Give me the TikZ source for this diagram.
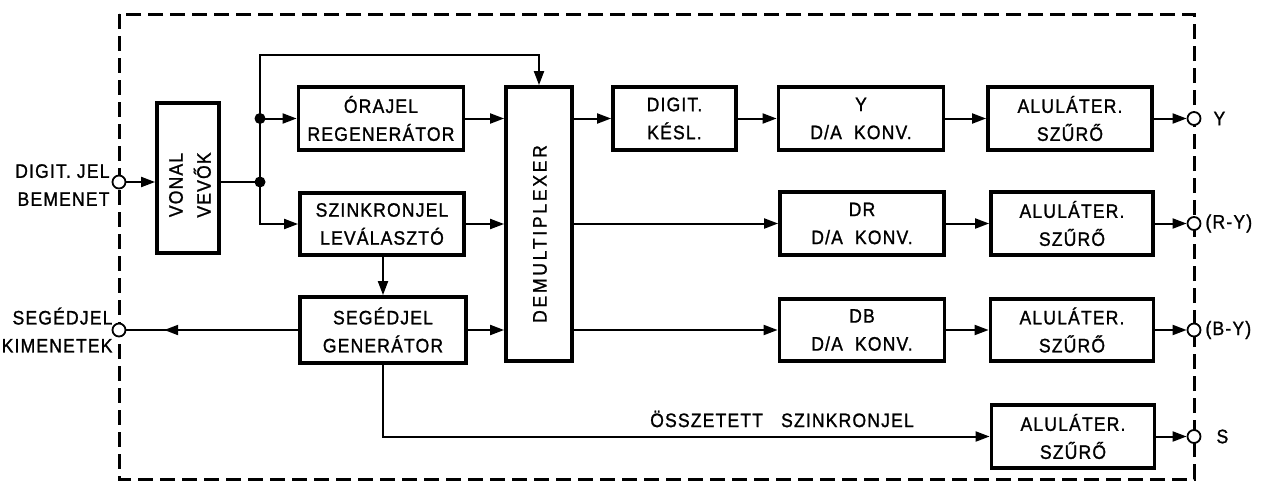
\documentclass[tikz,border=0pt]{standalone}
\usepackage{fontspec}
\setmainfont[LetterSpace=6,FakeStretch=0.9,FakeBold=1.2]{Liberation Sans}
\usetikzlibrary{arrows.meta,decorations.markings}
\begin{document}
\begin{tikzpicture}[x=1pt,y=-1pt,
  txt/.style={font=\fontsize{19.5}{28}\selectfont, align=center},
  blk/.style={draw, line width=3.8pt, inner sep=0pt, txt},
  conn/.style={line width=2pt},
  arr/.style={conn, -{Triangle[length=14pt,width=10pt]}},
  midarr/.style={conn, postaction={decorate}, decoration={markings,
     mark=at position 0.78 with {\arrow{Triangle[length=14pt,width=10pt]}}}},
  port/.style={circle, draw, line width=1.8pt, fill=white, minimum size=13pt, inner sep=0pt},
  jdot/.style={circle, fill, minimum size=11pt, inner sep=0pt},
  border/.style={line width=3pt, dash pattern=on 15pt off 7pt}
]
\useasboundingbox (0,0) rectangle (1261,485);
\draw[border] (119,14) rectangle (1194,479);

% blocks
\node[blk, minimum width=62pt, minimum height=150pt] (vonal) at (188,178) {};
\node[txt, rotate=90] (vonaltxt) at (190,185) {VONAL\\VEVŐK};
\node[blk, minimum width=165pt, minimum height=63pt] (orajel) at (381,118.5) {ÓRAJEL\\REGENERÁTOR};
\node[blk, minimum width=164pt, minimum height=62pt] (szink) at (382,224) {SZINKRONJEL\\LEVÁLASZTÓ};
\node[blk, minimum width=166pt, minimum height=66pt] (seged) at (383,330) {SEGÉDJEL\\GENERÁTOR};
\node[blk, minimum width=66pt, minimum height=274pt] (demux) at (539,224) {};
\node[txt, rotate=90] (demuxtxt) at (540,234) {\addfontfeature{LetterSpace=14}DEMULTIPLEXER};
\node[blk, minimum width=123pt, minimum height=63pt] (kesl) at (674.5,118.5) {DIGIT.\\KÉSL.};
\node[blk, minimum width=165pt, minimum height=63pt] (ydac) at (861,118.5) {Y\\D/A\ \ KONV.};
\node[blk, minimum width=164pt, minimum height=63pt] (drdac) at (862,223.5) {DR\\D/A\ \ KONV.};
\node[blk, minimum width=165pt, minimum height=62pt] (dbdac) at (862,330) {DB\\D/A\ \ KONV.};
\node[blk, minimum width=164pt, minimum height=63pt] (alu1) at (1070,118.5) {ALULÁTER.\\SZŰRŐ};
\node[blk, minimum width=162pt, minimum height=63pt] (alu2) at (1072,223.5) {ALULÁTER.\\SZŰRŐ};
\node[blk, minimum width=163pt, minimum height=62pt] (alu3) at (1072,330) {ALULÁTER.\\SZŰRŐ};
\node[blk, minimum width=163pt, minimum height=63pt] (alu4) at (1073,436.5) {ALULÁTER.\\SZŰRŐ};

% ports
\node[port] (pin) at (119,182) {};
\node[port] (pseg) at (119,330) {};
\node[port] (o1) at (1194,118.5) {};
\node[port] (o2) at (1194,223.5) {};
\node[port] (o3) at (1194,330) {};
\node[port] (o4) at (1194,436.5) {};

% port labels
\node[txt, align=right, anchor=east] (inlab) at (113,185) {DIGIT. JEL\\BEMENET};
\node[txt, align=right, anchor=east] (seglab) at (116,330) {SEGÉDJEL\\KIMENETEK};
\node[txt, anchor=west] (l1) at (1210,118.5) {Y};
\node[txt, anchor=west] (l2) at (1202,223.5) {(R-Y)};
\node[txt, anchor=west] (l3) at (1202,330) {(B-Y)};
\node[txt, anchor=west] (l4) at (1213,436.5) {S};
\node[txt] (osszlab) at (782,419) {ÖSSZETETT\ \ \ SZINKRONJEL};

% junctions
\coordinate (jtop) at (260,55);
\coordinate (j1) at (260,118.5);
\coordinate (j2) at (260,182);
\node[jdot] (d1) at (j1) {};
\node[jdot] (d2) at (j2) {};

% connectors
\draw[arr] (pin) -- (pin -| vonal.west);
\draw[conn] (vonal.east |- j2) -- (j2);
\draw[arr] (j2) -- (jtop) -| (demux.north);
\draw[arr] (j1) -- (orajel.west);
\draw[arr] (j2) |- (szink.west);
\draw[arr] (orajel.east) -- (orajel.east -| demux.west);
\draw[arr] (szink.east) -- (szink.east -| demux.west);
\draw[arr] (seged.east) -- (seged.east -| demux.west);
\draw[arr] (szink.south -| seged.north) -- (seged.north);
\draw[midarr] (seged.west) -- (pseg);
\draw[arr] (seged.south) |- (alu4.west);
\draw[arr] (demux.east |- kesl.west) -- (kesl.west);
\draw[arr] (kesl.east) -- (ydac.west);
\draw[arr] (demux.east |- drdac.west) -- (drdac.west);
\draw[arr] (demux.east |- dbdac.west) -- (dbdac.west);
\draw[arr] (ydac.east) -- (alu1.west);
\draw[arr] (drdac.east) -- (alu2.west);
\draw[arr] (dbdac.east) -- (alu3.west);
\draw[arr] (alu1.east) -- (o1);
\draw[arr] (alu2.east) -- (o2);
\draw[arr] (alu3.east) -- (o3);
\draw[arr] (alu4.east) -- (o4);
\end{tikzpicture}
\end{document}
